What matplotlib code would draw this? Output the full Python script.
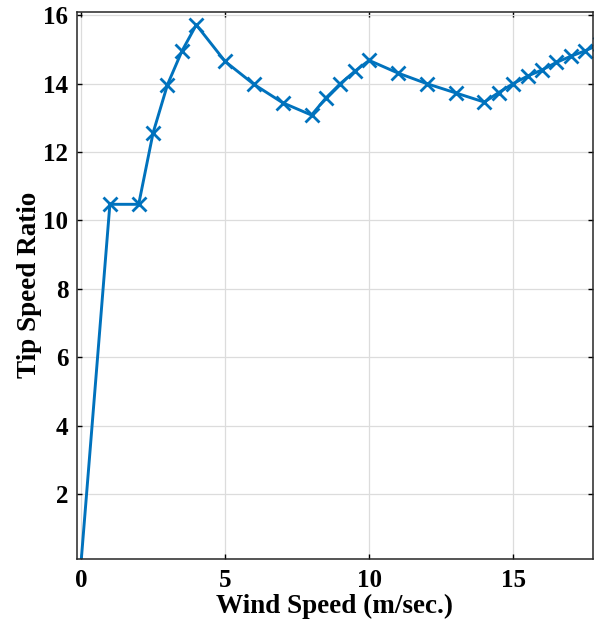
import matplotlib
matplotlib.use("Agg")
import matplotlib.pyplot as plt

wind_speed = [0, 1, 2, 2.5, 3, 3.5, 4, 5, 6, 7, 8, 8.5, 9, 9.5, 10, 11, 12, 13, 14,
              14.5, 15, 15.5, 16, 16.5, 17, 17.5, 18]
tsr = [0, 10.47, 10.47, 12.56, 13.97, 14.95, 15.72, 14.65, 13.98, 13.44, 13.08, 13.58,
       14.0, 14.36, 14.68, 14.31, 14.0, 13.73, 13.46, 13.74, 14.0, 14.22, 14.4, 14.62,
       14.8, 14.96, 15.15]
x_ticks = [0, 5, 10, 15]
y_ticks = [2, 4, 6, 8, 10, 12, 14, 16]

plt.rcParams['font.family'] = ['Liberation Serif', 'DejaVu Serif']
plt.rcParams['font.weight'] = 'bold'

fig = plt.figure(figsize=(5.95, 6.23), dpi=100)
ax = fig.add_axes([0.129, 0.103, 0.868, 0.878])
ax.plot(wind_speed, tsr, color='#0072BD', linewidth=2.1, marker='x',
        markersize=10, markeredgewidth=2.0, markevery=list(range(1, len(wind_speed))))
ax.set_xlim(-0.15, 17.78)
ax.set_ylim(0.1, 16.1)
ax.set_xticks(x_ticks)
ax.set_yticks(y_ticks)
ax.grid(True, color='#dcdcdc', linewidth=0.9)
ax.set_axisbelow(True)
ax.tick_params(direction='in', top=True, right=True, labelsize=18, length=3.5,
               width=1, pad=6)
ax.tick_params(axis='x', pad=7)
for lab in ax.get_xticklabels() + ax.get_yticklabels():
    lab.set_fontweight('bold')
for s in ax.spines.values():
    s.set_linewidth(1.1)
    s.set_color('#262626')
ax.set_xlabel('Wind Speed (m/sec.)', fontsize=19.5, fontweight='bold', labelpad=2)
ax.set_ylabel('Tip Speed Ratio', fontsize=19.5, fontweight='bold', labelpad=1)
fig.savefig('out.png', dpi=100)
